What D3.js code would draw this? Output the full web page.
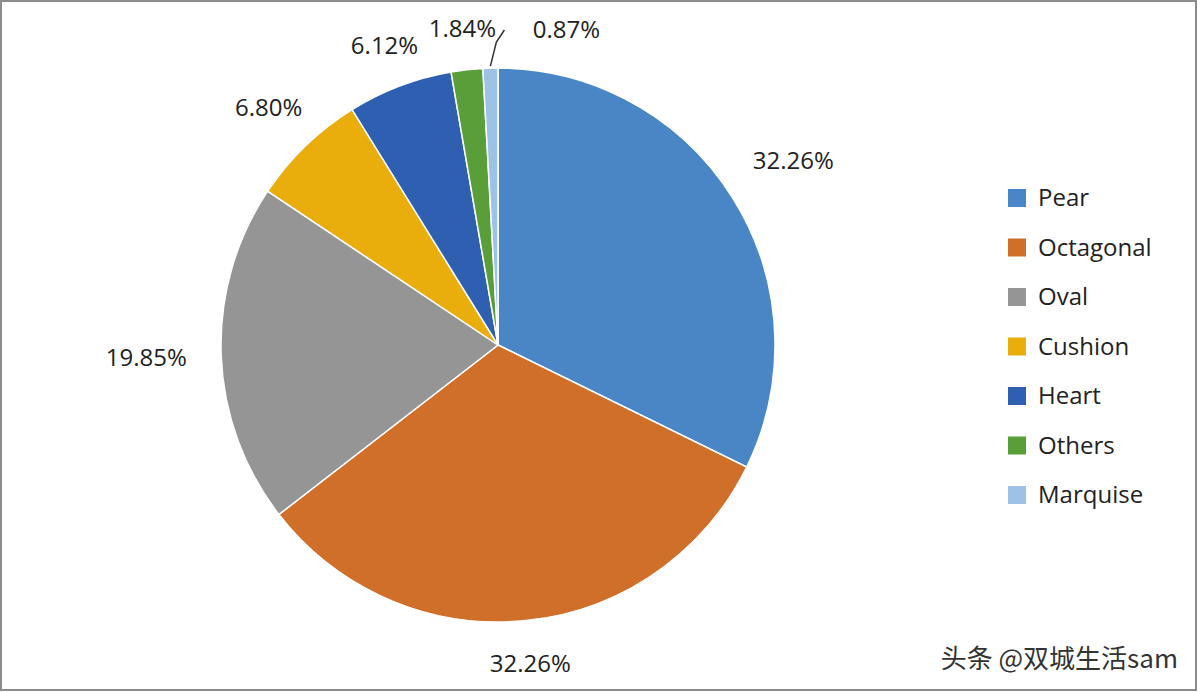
<!DOCTYPE html>
<html><head><meta charset="utf-8">
<script src="https://cdn.jsdelivr.net/npm/d3@7"></script>
<style>body{margin:0;background:#fff}</style></head>
<body><svg id="c" width="1198" height="692"></svg>
<script>
const categories=["Pear","Octagonal","Oval","Cushion","Heart","Others","Marquise"];
const values=[32.26,32.26,19.85,6.80,6.12,1.84,0.87];
const labels=["32.26%","32.26%","19.85%","6.80%","6.12%","1.84%","0.87%"];
const colors=["#4a86c5","#d06f29","#959595","#e9ad0c","#2f5fb1","#5a9e39","#9cc2e6"];
const svg=d3.select("#c");
svg.append("rect").attr("x",1).attr("y",1).attr("width",1195).attr("height",689).attr("fill","#fff").attr("stroke","#8c8c8c").attr("stroke-width",2);
const cx=498,cy=345,R=277;
const g=svg.append("g").attr("transform",`translate(${cx},${cy})`);
const pie=d3.pie().sort(null).value(d=>d)(values);
const arc=d3.arc().innerRadius(0).outerRadius(R);
g.selectAll("path").data(pie).join("path").attr("d",arc).attr("fill",(d,i)=>colors[i]).attr("stroke","#fff").attr("stroke-width",1.5);
const font="'Open Sans', 'DejaVu Sans', sans-serif";
const lr=[348,320,352,330,320,318,0];
pie.forEach((d,i)=>{
  const a=(d.startAngle+d.endAngle)/2;
  let x=Math.sin(a)*lr[i],y=-Math.cos(a)*lr[i];
  if(i===6){
    const p1=[Math.sin(a)*(R+2),-Math.cos(a)*(R+2)];
    g.append("path").attr("d",`M${p1[0]},${p1[1]} L${p1[0]+6},${-cy+42} L${p1[0]+14},${-cy+30}`).attr("fill","none").attr("stroke","#333").attr("stroke-width",1.5);
    x=p1[0]+76;y=-cy+30;
  }
  g.append("text").attr("x",x).attr("y",y).attr("dy","0.35em").attr("text-anchor","middle").attr("font-family",font).attr("font-size",24).attr("fill","#222").text(labels[i]);
});
const lg=svg.append("g");
categories.forEach((c,i)=>{
  const y=198+i*49.5;
  lg.append("rect").attr("x",1008).attr("y",y-9).attr("width",18).attr("height",18).attr("fill",colors[i]);
  lg.append("text").attr("x",1038).attr("y",y).attr("dy","0.35em").attr("font-family",font).attr("font-size",24).attr("fill","#222").text(c);
});
svg.append("text").attr("x",1178).attr("y",668).attr("text-anchor","end").attr("font-family","'Noto Sans CJK SC', sans-serif").attr("font-size",26).attr("fill","#333").text("头条 @双城生活sam");
</script></body></html>
